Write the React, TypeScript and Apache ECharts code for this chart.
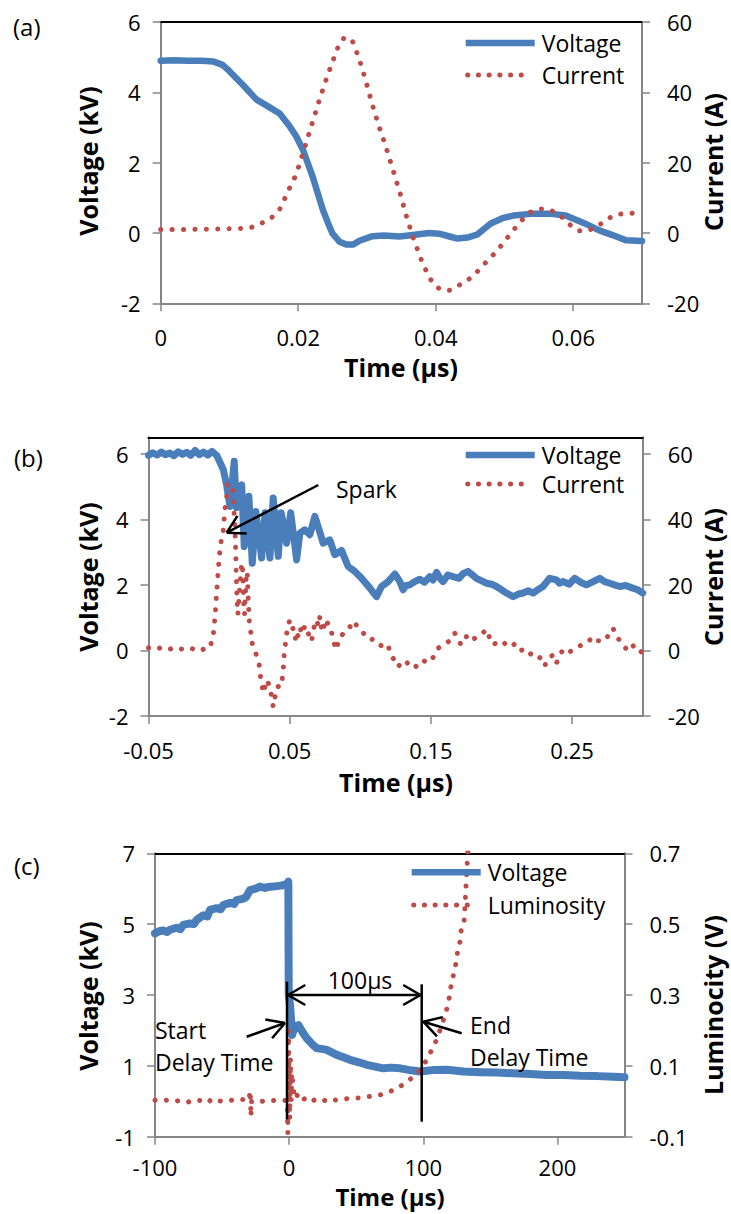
import React, { useEffect, useRef } from "react";
import * as echarts from "echarts";

// ---------- Panel (a) ----------
const aTimeTicks = [0, 0.02, 0.04, 0.06];
const aVoltTicks = [-2, 0, 2, 4, 6];
const aCurrTicks = [-20, 0, 20, 40, 60];
const aVoltage: number[][] = [
  [0, 4.9], [0.002, 4.91], [0.004, 4.9], [0.006, 4.9], [0.0076, 4.88], [0.009, 4.78], [0.01, 4.6],
  [0.012, 4.2], [0.0139, 3.8], [0.0156, 3.6], [0.0173, 3.4], [0.0187, 3.05], [0.0197, 2.75],
  [0.0207, 2.36], [0.0221, 1.6], [0.0236, 0.65], [0.0244, 0.25], [0.025, -0.02], [0.026, -0.25],
  [0.027, -0.33], [0.028, -0.33], [0.0289, -0.22], [0.0308, -0.09], [0.0325, -0.07], [0.0347, -0.1],
  [0.037, -0.05], [0.039, 0], [0.0405, -0.02], [0.042, -0.1], [0.0432, -0.16], [0.0446, -0.13],
  [0.046, -0.05], [0.048, 0.27], [0.0497, 0.42], [0.0514, 0.5], [0.0541, 0.55], [0.0565, 0.55],
  [0.0589, 0.5], [0.0616, 0.28], [0.0637, 0.08], [0.0657, -0.06], [0.0677, -0.21], [0.07, -0.23],
];
const aCurrent: number[][] = [
  [0, 1], [0.004, 1], [0.008, 1.1], [0.012, 1.3], [0.0132, 1.6], [0.0146, 2.7], [0.016, 4.1],
  [0.0173, 6.75], [0.018, 9.6], [0.0187, 12.6], [0.0195, 15.8], [0.0201, 19], [0.0211, 25.3],
  [0.0221, 31.6], [0.0231, 38], [0.0242, 44.4], [0.0254, 50.9], [0.026, 53.9], [0.0266, 55.3],
  [0.0272, 55.6], [0.0278, 55], [0.0288, 49.9], [0.0298, 43.5], [0.0307, 37], [0.0317, 30.6],
  [0.0328, 24.2], [0.0338, 17.8], [0.0348, 11.4], [0.0357, 5], [0.0367, -1.3], [0.0379, -7.6],
  [0.039, -12.5], [0.0398, -14.7], [0.0405, -15.8], [0.0413, -16.4], [0.042, -16.3], [0.0442, -14],
  [0.0456, -12], [0.0468, -9.3], [0.048, -7], [0.0492, -4.4], [0.0502, -1.9], [0.0513, 0.8],
  [0.0524, 3.4], [0.0536, 5.8], [0.0551, 6.9], [0.0566, 6.6], [0.0581, 5], [0.0594, 2.5],
  [0.0607, 0.6], [0.0621, 0.6], [0.0636, 2], [0.0649, 3.9], [0.0663, 5.3], [0.0681, 5.5], [0.07, 6],
];

// ---------- Panel (b) ----------
const bTimeTicks = [-0.05, 0.05, 0.15, 0.25];
const bVoltTicks = [-2, 0, 2, 4, 6];
const bCurrTicks = [-20, 0, 20, 40, 60];
const bVoltage: number[][] = [
  [-0.05, 5.95], [-0.047, 6.03], [-0.044, 5.96], [-0.041, 6.05], [-0.038, 5.97], [-0.035, 6.02],
  [-0.032, 5.94], [-0.029, 6.06], [-0.026, 5.98], [-0.023, 6.04], [-0.02, 5.95], [-0.017, 6.1],
  [-0.014, 5.97], [-0.011, 6.05], [-0.008, 5.96], [-0.005, 6.07], [-0.0017, 5.95], [0.003, 5.51],
  [0.0053, 5.05], [0.0077, 4.39], [0.0107, 5.77], [0.0123, 4.35], [0.016, 5.05], [0.0178, 3.17],
  [0.0211, 4.7], [0.0235, 2.66], [0.026, 4.24], [0.0301, 2.82], [0.0326, 4.2], [0.036, 2.82],
  [0.0383, 4.65], [0.0419, 2.87], [0.044, 4.2], [0.0478, 3.27], [0.0507, 4.2], [0.0549, 2.76],
  [0.0572, 3.58], [0.0607, 3.68], [0.0643, 3.53], [0.0678, 4.09], [0.0714, 3.6], [0.0737, 3.27],
  [0.0784, 3.37], [0.0819, 2.92], [0.0867, 3.05], [0.0914, 2.56], [0.0961, 2.41], [0.1009, 2.2],
  [0.1068, 1.9], [0.1115, 1.64], [0.115, 1.95], [0.1197, 2.1], [0.1245, 2.33], [0.128, 2.1],
  [0.1303, 1.85], [0.1325, 1.98], [0.135, 2.0], [0.1385, 2.1], [0.1421, 2.17], [0.1455, 2.08],
  [0.1492, 2.25], [0.1515, 2.15], [0.154, 2.38], [0.1565, 2.2], [0.1586, 2.1], [0.162, 2.3],
  [0.1657, 2.25], [0.17, 2.2], [0.173, 2.35], [0.1763, 2.41], [0.1795, 2.3], [0.1822, 2.2],
  [0.186, 2.12], [0.1893, 2.05], [0.193, 2.02], [0.1964, 1.95], [0.2, 1.85], [0.2035, 1.75],
  [0.2082, 1.64], [0.212, 1.72], [0.2153, 1.75], [0.219, 1.82], [0.2224, 1.75], [0.226, 1.86],
  [0.2294, 1.95], [0.2341, 2.2], [0.2389, 2.15], [0.241, 2.05], [0.2436, 2.1], [0.248, 2.02],
  [0.2518, 2.2], [0.256, 2.08], [0.2601, 2.0], [0.265, 2.1], [0.2695, 2.2], [0.273, 2.1],
  [0.2766, 2.05], [0.28, 2.0], [0.2837, 1.95], [0.288, 1.98], [0.293, 1.9], [0.2965, 1.85], [0.3, 1.75],
];
const bCurrent: number[][] = [
  [-0.05, 0.8], [-0.045, 0.3], [-0.04, 1.0], [-0.035, 0.4], [-0.03, 0.9], [-0.025, 0.2], [-0.02, 0.7],
  [-0.015, -0.2], [-0.01, 0.5], [-0.0065, 0.8], [-0.0041, 4.7], [-0.0029, 10.3], [-0.0017, 17.5],
  [-0.0006, 24.6], [0.0008, 31.7], [0.003, 36.8], [0.0041, 42.9], [0.0053, 46.5], [0.006, 50.5],
  [0.0084, 51], [0.0095, 49], [0.0105, 43], [0.0113, 36], [0.0118, 29], [0.0122, 22], [0.0127, 15],
  [0.0133, 11], [0.0145, 18], [0.016, 26.7], [0.0168, 24], [0.0175, 14], [0.018, 11], [0.0192, 22.5],
  [0.0199, 24], [0.0207, 15], [0.0214, 8.8], [0.0225, 5.3], [0.023, 2.7], [0.0259, -0.8],
  [0.0283, -3.9], [0.0289, -7], [0.0301, -10], [0.0313, -13], [0.0325, -11], [0.0337, -9],
  [0.036, -11], [0.0375, -15], [0.0383, -17.2], [0.0395, -14.5], [0.0405, -11.5], [0.0419, -11],
  [0.0442, -11], [0.0454, -6], [0.046, -1.9], [0.047, 2.2], [0.0485, 7.3], [0.0502, 9.3],
  [0.0512, 7.5], [0.0526, 6.4], [0.0533, 4.5], [0.054, 3.5], [0.0548, 5.8], [0.056, 4.2],
  [0.0575, 6.8], [0.0585, 5.0], [0.0596, 6.4], [0.061, 7.6], [0.0631, 5.3], [0.0642, 3.8],
  [0.0655, 2.7], [0.0668, 6.5], [0.069, 9.3], [0.0703, 7.4], [0.0714, 10.3], [0.0726, 6.4],
  [0.0738, 8.2], [0.0749, 6.3], [0.0766, 8.4], [0.0784, 7.8], [0.0798, 5.2], [0.0812, 2.4],
  [0.0832, 0.2], [0.0848, 3.6], [0.0865, 4.1], [0.0879, 5.3], [0.0902, 6.2], [0.0926, 7.3],
  [0.0944, 6.6], [0.0961, 8.3], [0.0985, 7.0], [0.1009, 5.7], [0.1035, 4.8], [0.1068, 3.2],
  [0.1095, 3.5], [0.1127, 2.2], [0.1155, 1.2], [0.1186, 0.2], [0.12, 1.0], [0.1221, -1.9],
  [0.1245, -3.0], [0.1268, -5], [0.129, -3.8], [0.1315, -3], [0.135, -4.6], [0.1386, -5.4],
  [0.1415, -3.5], [0.1445, -3], [0.1475, -3.8], [0.1504, -3], [0.1528, -1.2], [0.1551, 0.7],
  [0.158, 1.5], [0.161, 2.2], [0.164, 3.2], [0.1669, 5.3], [0.169, 3.2], [0.1716, 1.7],
  [0.174, 3.6], [0.1763, 4.8], [0.179, 3.4], [0.1822, 3.8], [0.186, 5.0], [0.1893, 6.4],
  [0.1915, 3.9], [0.194, 1.7], [0.1975, 2.6], [0.2011, 1.7], [0.2045, 2.9], [0.2082, 2.2],
  [0.2105, 0.8], [0.2129, -0.3], [0.216, 0.6], [0.2188, -0.3], [0.221, -1.2], [0.2235, -0.8],
  [0.2265, -2.0], [0.2294, -3], [0.2306, -4.7], [0.233, -2.4], [0.2365, -1.4], [0.2389, -3.9],
  [0.241, -1.6], [0.2436, 0.2], [0.247, -0.8], [0.2507, 0.2], [0.254, 1.2], [0.2577, 1.7],
  [0.261, 2.5], [0.2648, 4.2], [0.268, 3.0], [0.2719, 2.7], [0.2755, 4.4], [0.279, 6.8],
  [0.2802, 5.3], [0.2825, 3.6], [0.2849, 2.7], [0.287, 1.2], [0.2896, -0.3], [0.292, 0.9],
  [0.2943, 1.7], [0.297, 0.4], [0.2998, -0.8],
];

// ---------- Panel (c) ----------
const cTimeTicks = [-100, 0, 100, 200];
const cVoltTicks = [-1, 1, 3, 5, 7];
const cLumTicks = [-0.1, 0.1, 0.3, 0.5, 0.7];
const cVoltage: number[][] = [
  [-100, 4.74], [-97, 4.8], [-94, 4.82], [-91, 4.78], [-88.8, 4.84], [-84, 4.9], [-81, 4.86],
  [-78.9, 4.98], [-74, 5.02], [-71, 5.0], [-68.9, 5.12], [-64, 5.25], [-61, 5.22], [-59, 5.4],
  [-54, 5.45], [-51, 5.42], [-49.1, 5.54], [-44, 5.6], [-41, 5.57], [-39.1, 5.68], [-34, 5.72],
  [-32, 5.77], [-29.2, 5.96], [-25, 6.0], [-21.7, 6.06], [-18, 6.02], [-16, 6.05], [-11.8, 6.06],
  [-8, 6.08], [-4.3, 6.1], [-1.5, 6.15], [-0.6, 6.2], [-0.3, 3.0], [0.67, 2.72], [1.4, 2.34],
  [2.2, 1.87], [4, 2.1], [6.9, 2.15], [10, 1.95], [13.1, 1.78], [17, 1.62], [20.6, 1.5], [24, 1.48],
  [28, 1.45], [35.5, 1.31], [40, 1.25], [45.4, 1.17], [52, 1.1], [57.9, 1.03], [64, 0.98],
  [70.2, 0.93], [76, 0.95], [82.7, 0.93], [90, 0.88], [97.6, 0.84], [107, 0.88], [117.5, 0.89],
  [130, 0.84], [142.4, 0.82], [155, 0.81], [167.2, 0.79], [180, 0.77], [192.1, 0.74], [205, 0.74],
  [216.9, 0.72], [230, 0.71], [241.8, 0.69], [250, 0.68],
];
const cLuminosity: number[][] = [
  [-100, 0.003], [-95, 0.001], [-90, 0.004], [-85, 0.0], [-80, 0.003], [-75, -0.002], [-70, 0.004],
  [-65, 0.001], [-60.3, -0.004], [-58, 0.006], [-55, 0.002], [-50, 0.0], [-45, 0.004], [-40, 0.001],
  [-35, 0.005], [-30, 0.002], [-29, 0.03], [-28.5, -0.043], [-28, 0.0], [-25, 0.003], [-20, 0.0],
  [-15, 0.004], [-10, 0.001], [-5, 0.003], [-1.5, 0.002], [-1, -0.09], [-0.5, 0.2], [0.5, -0.05],
  [1, 0.12], [1.5, 0.0], [2, 0.08], [3, 0.046], [4, 0.01], [5.6, 0.02], [8, 0.0], [12, 0.008],
  [16, -0.002], [20, 0.006], [25, 0.0], [30, 0.008], [35, 0.003], [40, 0.006], [45.4, 0.008],
  [55, 0.01], [62, 0.015], [67.8, 0.018], [72, 0.022], [77.7, 0.032], [82, 0.04], [86.4, 0.051],
  [92.6, 0.069], [98.9, 0.093], [103.8, 0.126], [108.8, 0.164], [112.5, 0.201], [116.3, 0.244],
  [118.7, 0.277], [121.2, 0.338], [123.7, 0.375], [125.4, 0.418], [127.4, 0.451], [128.7, 0.498],
  [130.5, 0.51], [134, 0.76],
];

const BLUE = "#4A7EBB";
const RED = "#BE4B48";
const AXIS = "#868686";
const FONT = "'Open Sans', sans-serif";

const grids = [
  { left: 160.7, top: 22, width: 481.3, height: 281.3 },
  { left: 148.5, top: 437.3, width: 494.2, height: 278.7 },
  { left: 155, top: 853.3, width: 469.5, height: 283.4 },
];

function xAxes(gi: number, min: number, max: number, ticks: number[], margin: number) {
  return [
    {
      type: "value", gridIndex: gi, min, max, position: "bottom",
      axisLine: { show: true, onZero: false, lineStyle: { color: AXIS, width: 2 } },
      axisTick: { show: true, length: 8, customValues: ticks, lineStyle: { color: AXIS, width: 1.5 } },
      axisLabel: { customValues: ticks, margin, color: "#000", fontSize: 22, lineHeight: 22, fontFamily: FONT },
      splitLine: { show: false },
    },
    {
      type: "value", gridIndex: gi, min, max, position: "top",
      axisLine: { show: true, onZero: false, lineStyle: { color: "#000", width: 2 } },
      axisTick: { show: false }, axisLabel: { show: false }, splitLine: { show: false },
    },
  ];
}

function yAxis(gi: number, min: number, max: number, ticks: number[], pos: string) {
  return {
    type: "value", gridIndex: gi, min, max, position: pos,
    axisLine: { show: true, onZero: false, lineStyle: { color: AXIS, width: 2 } },
    axisTick: { show: true, length: 8, customValues: ticks, lineStyle: { color: AXIS, width: 1.5 } },
    axisLabel: { customValues: ticks, margin: pos === "left" ? 20 : 25, color: "#000", fontSize: 22, fontFamily: FONT },
    splitLine: { show: false },
  };
}

function solid(data: number[][], idx: number, width: number) {
  return {
    type: "line", xAxisIndex: idx * 2, yAxisIndex: idx * 2, data, showSymbol: false, symbol: "none",
    silent: true, clip: true, lineStyle: { color: BLUE, width, join: "round", cap: "round" }, z: 2,
  };
}
function dotted(data: number[][], idx: number) {
  return {
    type: "line", xAxisIndex: idx * 2, yAxisIndex: idx * 2 + 1, data, showSymbol: false, symbol: "none",
    silent: true, clip: true, lineStyle: { color: RED, width: 5, type: [0.1, 11.3], cap: "round" }, z: 3,
  };
}

function txt(text: string, x: number, y: number, size: number, opts: any = {}) {
  return {
    type: "text", x, y, z: 100, rotation: opts.rot || 0,
    style: {
      text, fill: "#000", fontSize: size, lineHeight: size, fontFamily: FONT,
      fontWeight: opts.bold ? "bold" : "normal",
      align: opts.align || "left", verticalAlign: "middle",
    },
  };
}
function seg(x1: number, y1: number, x2: number, y2: number, w = 2.5, color = "#000") {
  return { type: "line", z: 100, shape: { x1, y1, x2, y2 }, style: { stroke: color, lineWidth: w } };
}
function arrowHead(tx: number, ty: number, fx: number, fy: number) {
  const ang = Math.atan2(fy - ty, fx - tx);
  const L = 20, h = Math.PI / 6;
  return [
    seg(tx, ty, tx + L * Math.cos(ang + h), ty + L * Math.sin(ang + h)),
    seg(tx, ty, tx + L * Math.cos(ang - h), ty + L * Math.sin(ang - h)),
  ];
}
function arrow(fx: number, fy: number, tx: number, ty: number) {
  return [seg(fx, fy, tx, ty), ...arrowHead(tx, ty, fx, fy)];
}
function legend(x: number, y1: number, y2: number, t1: string, t2: string) {
  return [
    seg(x, y1, x + 69, y1, 6.5, BLUE),
    txt(t1, x + 76, y1, 23),
    {
      type: "line", z: 100, shape: { x1: x + 2, y1: y2, x2: x + 66, y2 },
      style: { stroke: RED, lineWidth: 5, lineDash: [0.1, 10.6], lineCap: "round" },
    },
    txt(t2, x + 76, y2, 23),
  ];
}

function App() {
  const ref = useRef<HTMLDivElement>(null);
  useEffect(() => {
    const chart = echarts.init(ref.current!, null, { renderer: "svg" });
    const graphic: any[] = [
      txt("(a)", 13, 26, 24),
      txt("(b)", 14, 457, 24),
      txt("(c)", 14, 865, 24),
      txt("Voltage (kV)", 88, 161, 25, { bold: true, align: "center", rot: Math.PI / 2 }),
      txt("Current (A)", 713, 162, 25, { bold: true, align: "center", rot: Math.PI / 2 }),
      txt("Time (µs)", 401, 367, 25, { bold: true, align: "center" }),
      txt("Voltage (kV)", 88, 577, 25, { bold: true, align: "center", rot: Math.PI / 2 }),
      txt("Current (A)", 713, 577, 25, { bold: true, align: "center", rot: Math.PI / 2 }),
      txt("Time (µs)", 396, 782, 25, { bold: true, align: "center" }),
      txt("Voltage (kV)", 88, 996, 25, { bold: true, align: "center", rot: Math.PI / 2 }),
      txt("Luminocity (V)", 713, 1005, 25, { bold: true, align: "center", rot: Math.PI / 2 }),
      txt("Time (µs)", 390, 1196, 24, { bold: true, align: "center" }),
      ...legend(465.7, 43, 75, "Voltage", "Current"),
      ...legend(465.7, 455, 484, "Voltage", "Current"),
      ...legend(411.7, 872.3, 905, "Voltage", "Luminosity"),
      // (b) spark annotation
      txt("Spark", 336, 489, 23),
      ...arrow(318.3, 485, 226.7, 532.7),
      // (c) delay-time annotations
      seg(287, 981.7, 287, 1119.3),
      seg(421.7, 984.3, 421.7, 1121.7),
      seg(288, 995, 420.5, 995),
      ...arrowHead(288, 995, 420.5, 995),
      ...arrowHead(420.5, 995, 288, 995),
      txt("100µs", 360, 980, 23, { align: "center" }),
      txt("Start", 155, 1030, 23),
      txt("Delay Time", 155, 1061.7, 23),
      ...arrow(246.7, 1036.7, 285, 1023),
      txt("End", 470, 1025, 23),
      txt("Delay Time", 470, 1056.7, 23),
      ...arrow(461.7, 1033.3, 423.3, 1021.7),
    ];
    chart.setOption({
      animation: false,
      grid: grids,
      xAxis: [
        ...xAxes(0, 0, 0.07, aTimeTicks, 23),
        ...xAxes(1, -0.05, 0.3, bTimeTicks, 23),
        ...xAxes(2, -100, 250, cTimeTicks, 19),
      ],
      yAxis: [
        yAxis(0, -2, 6, aVoltTicks, "left"),
        yAxis(0, -20, 60, aCurrTicks, "right"),
        yAxis(1, -2, 6.5, bVoltTicks, "left"),
        yAxis(1, -20, 65, bCurrTicks, "right"),
        yAxis(2, -1, 7, cVoltTicks, "left"),
        yAxis(2, -0.1, 0.7, cLumTicks, "right"),
      ],
      series: [
        solid(aVoltage, 0, 6.5),
        dotted(aCurrent, 0),
        solid(bVoltage, 1, 7),
        dotted(bCurrent, 1),
        solid(cVoltage, 2, 8),
        dotted(cLuminosity, 2),
      ],
      graphic,
    });
    return () => chart.dispose();
  }, []);
  return <div ref={ref} style={{ position: "absolute", left: 0, top: 0, width: 731, height: 1214 }} />;
}

export default App;
